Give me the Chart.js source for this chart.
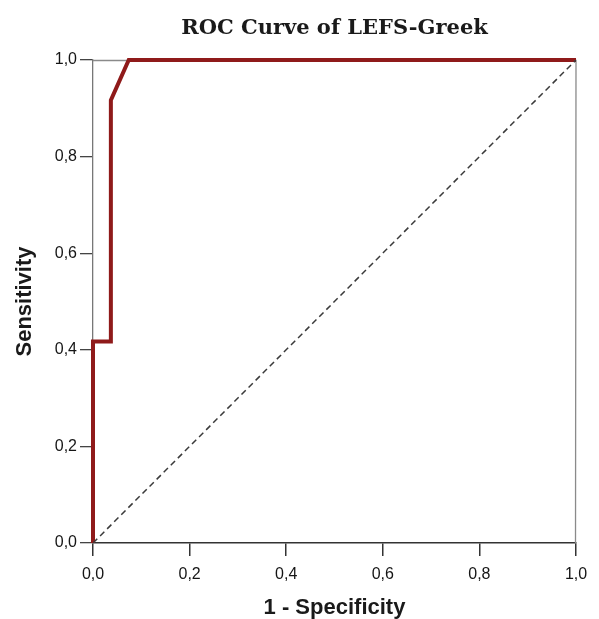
<!DOCTYPE html>
<html>
<head>
<meta charset="utf-8">
<script src="https://cdn.jsdelivr.net/npm/chart.js@4/dist/chart.umd.min.js"></script>
<style>
html,body{margin:0;padding:0;background:#fff;}
#wrap{width:599px;height:619px;position:relative;}
</style>
</head>
<body>
<div id="wrap"><canvas id="c" width="599" height="619"></canvas></div>
<script>
// ROC curve points (1 - specificity, sensitivity)
const fpr = [0, 0, 0.037, 0.037, 0.074, 1];
const tpr = [0, 0.417, 0.417, 0.917, 1, 1];
// Reference diagonal
const refX = [0, 1];
const refY = [0, 1];
const tickValues = [0, 0.2, 0.4, 0.6, 0.8, 1.0];
const titleText = 'ROC Curve of LEFS-Greek';
const xTitle = '1 - Specificity';
const yTitle = 'Sensitivity';

const toPts = (xs, ys) => xs.map((x, i) => ({x: x, y: ys[i]}));
const fmt = v => Number(v).toFixed(1).replace('.', ',');

const framePlugin = {
  id: 'frame',
  beforeDatasetsDraw(chart) {
    const a = chart.chartArea, ctx = chart.ctx;
    ctx.save();
    ctx.strokeStyle = '#8a8a8a';
    ctx.lineWidth = 1.3;
    ctx.beginPath();
    ctx.moveTo(a.left, a.top + 0.5);
    ctx.lineTo(a.right, a.top + 0.5);
    ctx.lineTo(a.right - 0.5, a.bottom);
    ctx.stroke();
    ctx.restore();
  }
};

new Chart(document.getElementById('c'), {
  type: 'scatter',
  data: {
    datasets: [
      {
        data: toPts(refX, refY),
        showLine: true,
        borderColor: '#3a3a3a',
        borderWidth: 1.5,
        borderDash: [6, 4],
        pointRadius: 0,
        fill: false
      },
      {
        data: toPts(fpr, tpr),
        showLine: true,
        borderColor: '#8f1a1a',
        borderWidth: 4,
        pointRadius: 0,
        fill: false,
        clip: 6,
        borderJoinStyle: 'miter'
      }
    ]
  },
  options: {
    responsive: false,
    animation: false,
    layout: {padding: {left: 0, right: 23, top: 0, bottom: 0}},
    plugins: {
      legend: {display: false},
      tooltip: {enabled: false},
      title: {
        display: true,
        fullSize: false,
        text: titleText,
        color: '#1a1a1a',
        font: {family: 'DejaVu Serif', size: 21, weight: 'bold', lineHeight: 1.2},
        padding: {top: 16, bottom: 18.8}
      }
    },
    scales: {
      x: {
        type: 'linear',
        min: 0, max: 1,
        afterBuildTicks: s => { s.ticks = tickValues.map(v => ({value: v})); },
        afterFit: s => { s.height = 76; },
        grid: {drawOnChartArea: false, drawTicks: true, tickLength: 13, color: '#333', lineWidth: 1.5},
        border: {display: true, color: '#333', width: 1.5},
        ticks: {
          callback: v => fmt(v),
          color: '#151515',
          padding: 9,
          maxRotation: 0,
          font: {family: 'Liberation Sans', size: 16}
        },
        title: {
          display: true,
          text: xTitle,
          color: '#1a1a1a',
          font: {family: 'Liberation Sans', size: 22, weight: 'bold', lineHeight: 1},
          padding: {top: 0, bottom: 0}
        }
      },
      y: {
        type: 'linear',
        min: 0, max: 1,
        afterBuildTicks: s => { s.ticks = tickValues.map(v => ({value: v})); },
        afterFit: s => { s.width = 93; },
        grid: {drawOnChartArea: false, drawTicks: true, tickLength: 13, color: '#444', lineWidth: 1.3},
        border: {display: true, color: '#777', width: 1.3},
        ticks: {
          callback: v => fmt(v),
          color: '#151515',
          padding: 3,
          font: {family: 'Liberation Sans', size: 16}
        },
        title: {
          display: true,
          text: yTitle,
          color: '#1a1a1a',
          font: {family: 'Liberation Sans', size: 22, weight: 'bold', lineHeight: 1.2},
          padding: {top: 12, bottom: 0}
        }
      }
    }
  },
  plugins: [framePlugin]
});
</script>
</body>
</html>
